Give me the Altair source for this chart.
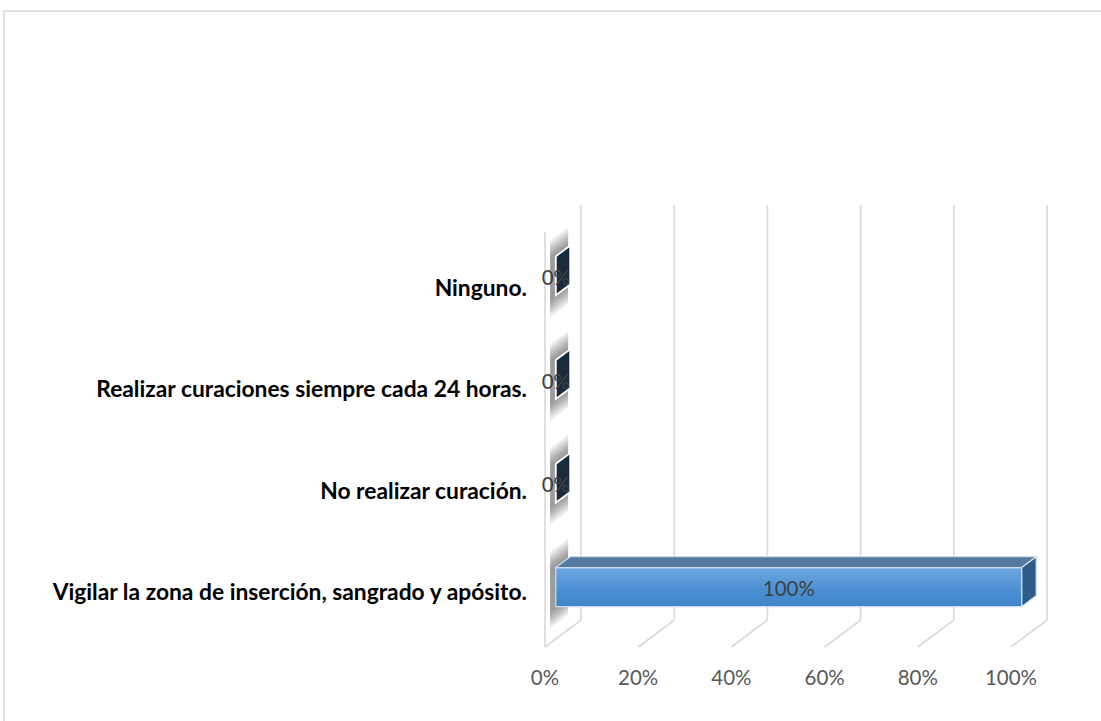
import altair as alt
import pandas as pd

# ---- data ----
categories = [
    "Vigilar la zona de inserción, sangrado y apósito.",
    "No realizar curación.",
    "Realizar curaciones siempre cada 24 horas.",
    "Ninguno.",
]
values = [1.00, 0.00, 0.00, 0.00]
value_labels = ["100%", "0%", "0%", "0%"]
tick_values = [0.0, 0.2, 0.4, 0.6, 0.8, 1.0]
tick_labels = ["0%", "20%", "40%", "60%", "80%", "100%"]

# ---- 3D geometry (style) ----
DX = 0.0773      # depth offset in x units
DY = 0.26        # depth offset in y units (upwards)
D_FRONT, D_BACK = 0.3, 0.7   # bar depth placement
HALF = 0.188     # half thickness of bar (y units)
Y_LO, Y_HI = -0.5, 3.5
SHADOW_EXT = [0.18, 0.155, 0.13, 0.105, 0.08, 0.055, 0.03]

xs = alt.Scale(domain=[0, 1], range=[545, 1011], nice=False, zero=False)
ys = alt.Scale(domain=[Y_LO, Y_HI], range=[647, 232], nice=False, zero=False)

GRID = "#d9d9d9"

# gridlines on back wall / floor / side
grid_df = pd.DataFrame({"v": tick_values})
grid_df["xb"] = grid_df["v"] + DX
grid_df["y0"] = Y_LO + DY
grid_df["y1"] = Y_HI + DY
grid_df["yf"] = Y_LO
back = alt.Chart(grid_df).mark_rule(color=GRID, strokeWidth=1.6).encode(
    x=alt.X("xb:Q", scale=xs, axis=None),
    y=alt.Y("y0:Q", scale=ys, axis=None),
    y2="y1:Q",
)
floor = alt.Chart(grid_df).mark_rule(color=GRID, strokeWidth=1.6).encode(
    x=alt.X("v:Q", scale=xs, axis=None),
    x2="xb:Q",
    y=alt.Y("yf:Q", scale=ys, axis=None),
    y2="y0:Q",
)
side_df = pd.DataFrame({"v": [0.0], "a": [Y_LO], "b": [Y_HI]})
side = alt.Chart(side_df).mark_rule(color=GRID, strokeWidth=1.6).encode(
    x=alt.X("v:Q", scale=xs, axis=None),
    y=alt.Y("a:Q", scale=ys, axis=None),
    y2="b:Q",
)

# bars table
bars = pd.DataFrame({"cat": categories, "v": values, "lab": value_labels})
bars["i"] = range(len(bars))
bars["cf"] = bars["i"] + D_FRONT * DY
bars["x0"] = D_FRONT * DX
bars["x1"] = bars["v"] + D_FRONT * DX
bars["top"] = bars["cf"] + HALF
bars["bot"] = bars["cf"] - HALF
bars["xm"] = bars["v"] / 2 + D_FRONT * DX


def poly_rows(face_id, pts, kind):
    out = []
    pts = list(pts) + [pts[0]]
    for k, (px, py) in enumerate(pts):
        out.append({"face": face_id, "x": px, "y": py, "k": k, "kind": kind})
    return out


rows = []
for _, r in bars.iterrows():
    v, i = r["v"], r["i"]
    cF = i + D_FRONT * DY
    cB = i + D_BACK * DY
    xF = D_FRONT * DX
    xB = D_BACK * DX
    kind_end = "end_pos" if v > 0 else "end_zero"
    rows += poly_rows(f"end{i}", [(v + xF, cF + HALF), (v + xB, cB + HALF),
                                  (v + xB, cB - HALF), (v + xF, cF - HALF)], kind_end)
    if v > 0:
        rows += poly_rows(f"top{i}", [(xF, cF + HALF), (xB, cB + HALF),
                                      (v + xB, cB + HALF), (v + xF, cF + HALF)], "top")
    # soft shadow around the left end
    for lvl, ext in enumerate(SHADOW_EXT):
        sF = i + (D_FRONT - 0.12) * DY
        sB = i + (D_BACK - 0.02) * DY
        ax = (D_FRONT - 0.12) * DX - 0.003
        bx = (D_BACK - 0.02) * DX - 0.003
        rows += poly_rows(f"sh{i}-{lvl}", [(ax, sF + HALF + ext), (bx, sB + HALF + ext),
                                           (bx, sB - HALF - ext), (ax, sF - HALF - ext)], "shadow")
poly = pd.DataFrame(rows)


def poly_layer(kind, **mk):
    return alt.Chart(poly[poly["kind"] == kind]).mark_line(**mk).encode(
        x=alt.X("x:Q", scale=xs, axis=None),
        y=alt.Y("y:Q", scale=ys, axis=None),
        detail="face:N",
        order="k:Q",
    )


shadow = poly_layer("shadow", fill="#000000", fillOpacity=0.065, strokeOpacity=0, strokeWidth=0)
topface = poly_layer("top", fill="#56799f", stroke="#c9dcf0", strokeWidth=1.2)
end_pos = poly_layer("end_pos", fill="#2f5d8a", stroke="#d6e4f2", strokeWidth=1.2)
end_zero = poly_layer("end_zero", fill="#1b2a3d", stroke="#ffffff", strokeWidth=1.8)

pos = bars[bars["v"] > 0]
front = alt.Chart(pos).mark_rect(
    color=alt.Gradient(
        gradient="linear",
        stops=[alt.GradientStop(color="#6ea7e0", offset=0),
               alt.GradientStop(color="#4a8fd2", offset=0.6),
               alt.GradientStop(color="#3f86cb", offset=1)],
        x1=0, x2=0, y1=0, y2=1,
    ),
    stroke="#c9dcf0", strokeWidth=1.2,
).encode(
    x=alt.X("x0:Q", scale=xs, axis=None),
    x2="x1:Q",
    y=alt.Y("top:Q", scale=ys, axis=None),
    y2="bot:Q",
)

vlabels = alt.Chart(bars).mark_text(
    font="Lato", fontSize=20.5, color="#404040", baseline="middle", align="center", dy=3
).encode(
    x=alt.X("xm:Q", scale=xs, axis=None),
    y=alt.Y("cf:Q", scale=ys, axis=None),
    text="lab:N",
)

bars["ly"] = bars["i"] * 0.977 + 0.02
catlabels = alt.Chart(bars).mark_text(
    font="Lato", fontSize=22.8, fontWeight="bold", color="#000000",
    baseline="middle", align="right"
).encode(
    x=alt.value(527),
    y=alt.Y("ly:Q", scale=ys, axis=None),
    text="cat:N",
)

tick_df = pd.DataFrame({"v": tick_values, "t": tick_labels})
ticklabels = alt.Chart(tick_df).mark_text(
    font="Lato", fontSize=20.5, color="#595959", baseline="middle", align="center"
).encode(
    x=alt.X("v:Q", scale=xs, axis=None),
    y=alt.value(679),
    text="t:N",
)

border = alt.Chart(pd.DataFrame({"a": [0]})).mark_rect(
    fillOpacity=0, stroke="#d9d9d9", strokeWidth=1.5
).encode(
    x=alt.value(4), x2=alt.value(1130), y=alt.value(11), y2=alt.value(760)
)

chart = alt.layer(
    border, back, floor, side, shadow, front, topface, end_pos, end_zero,
    vlabels, catlabels, ticklabels
).properties(
    width=1101, height=721, autosize=alt.AutoSizeParams(type="none"),
    padding=0, background="white"
).configure_view(stroke=None)

chart.save("out.html", embed_options={"renderer": "svg", "actions": False})
